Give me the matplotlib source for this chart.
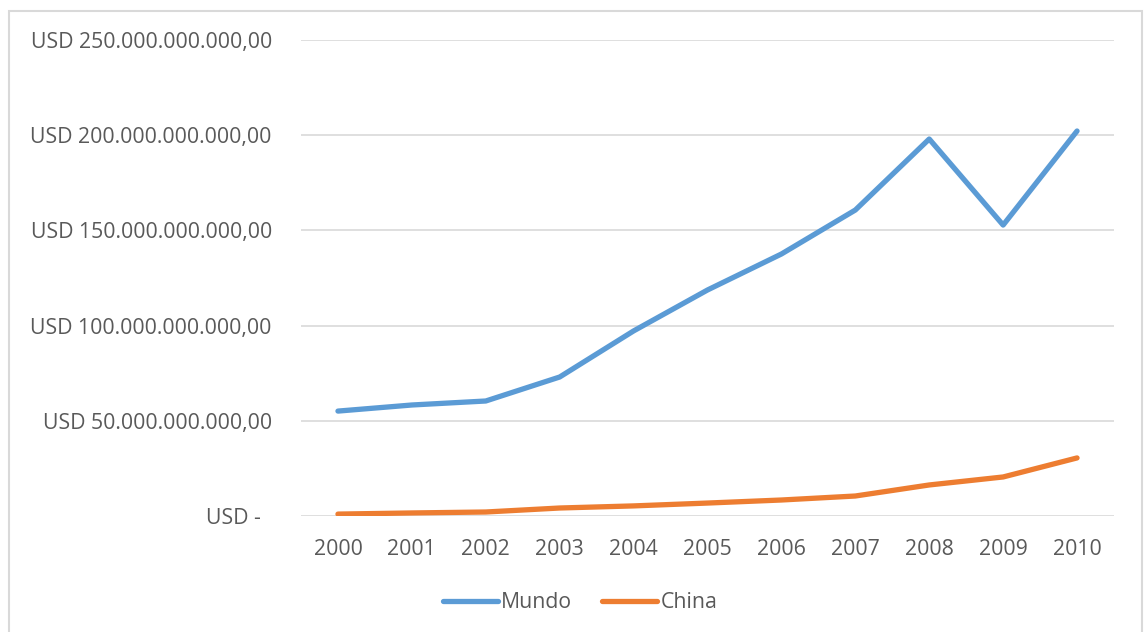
import matplotlib
matplotlib.use("Agg")
import matplotlib.pyplot as plt
from matplotlib.patches import Rectangle
from matplotlib.ticker import FuncFormatter

years = ["2000", "2001", "2002", "2003", "2004", "2005", "2006", "2007", "2008", "2009", "2010"]
mundo = [55.1e9, 58.3e9, 60.4e9, 73.0e9, 97.2e9, 118.7e9, 137.6e9, 160.7e9, 198.0e9, 152.8e9, 202.2e9]
china = [1.0e9, 1.6e9, 2.1e9, 4.2e9, 5.3e9, 6.8e9, 8.4e9, 10.5e9, 16.3e9, 20.5e9, 30.5e9]
yticks = [0, 50e9, 100e9, 150e9, 200e9, 250e9]

plt.rcParams['font.family'] = ['Open Sans', 'DejaVu Sans']
W, H = 1144, 632
fig = plt.figure(figsize=(W / 100, H / 100), dpi=100)
ax = fig.add_axes([301 / W, 1 - 516 / H, (1114 - 301) / W, (516 - 40) / H])

# chart border
fig.patches.append(Rectangle((9 / W, -0.05), (1142 - 9) / W, 1 - 11 / H + 0.05,
                             transform=fig.transFigure, fill=False,
                             edgecolor='#d9d9d9', linewidth=1.5))

x = list(range(len(years)))
ax.plot(x, mundo, color='#5b9bd5', linewidth=3.8, solid_capstyle='round', label='Mundo')
ax.plot(x, china, color='#ed7d31', linewidth=3.8, solid_capstyle='round', label='China')

ax.set_xlim(-0.5, len(years) - 0.5)
ax.set_ylim(0, 250e9)
ax.set_xticks(x)
ax.set_xticklabels(years)
ax.set_yticks(yticks)


def fmt(v, pos):
    if v == 0:
        return "USD -  "
    s = f"{v:,.2f}".replace(",", "X").replace(".", ",").replace("X", ".")
    return "USD " + s


ax.yaxis.set_major_formatter(FuncFormatter(fmt))
ax.tick_params(axis='both', length=0, labelsize=15.3, labelcolor='#595959')
ax.tick_params(axis='y', pad=21)
ax.tick_params(axis='x', pad=16.5)
ax.grid(axis='y', color='#d9d9d9', linewidth=1.2)
ax.set_axisbelow(True)
for s in ax.spines.values():
    s.set_visible(False)

leg = fig.legend(loc='center', bbox_to_anchor=(580 / W, 1 - 603 / H), ncol=2, frameon=False,
                 fontsize=15.3, labelcolor='#595959', handlelength=2.6, handletextpad=0.15,
                 columnspacing=1.4)

fig.savefig("out.png", dpi=100, facecolor='white')
